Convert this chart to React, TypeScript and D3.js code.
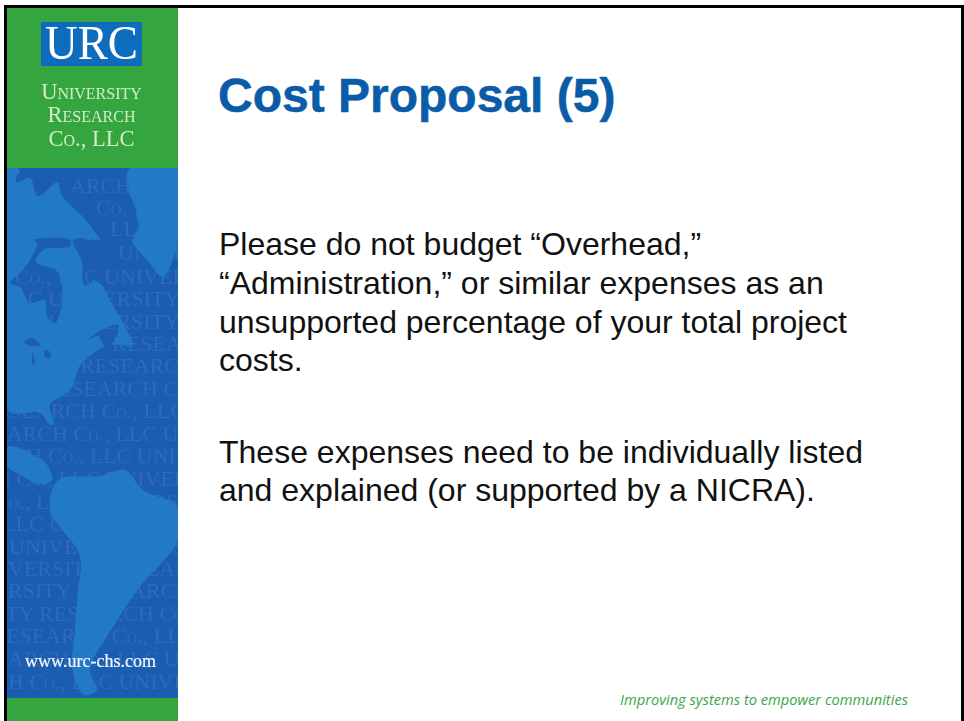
import React from "react";
import * as d3 from "d3";

type Pt = [number, number];

// Slide copy
const titleText = "Cost Proposal (5)";
const bodyLines = [
  { text: "Please do not budget “Overhead,”", y: 255 },
  { text: "“Administration,” or similar expenses as an", y: 294 },
  { text: "unsupported percentage of your total project", y: 332.5 },
  { text: "costs.", y: 371 },
  { text: "These expenses need to be individually listed", y: 463 },
  { text: "and explained (or supported by a NICRA).", y: 501 },
];
const footerText = "Improving systems to empower communities";
const orgLines = [
  { text: "University", y: 99 },
  { text: "Research", y: 122 },
  { text: "Co., LLC", y: 146 },
];

// Watermark rows in the side panel
const watermarkRows: { y: number; text: string; x: number }[] = [
  { y: 193, text: "ARCH C", x: 70 },
  { y: 215, text: "Co.", x: 96 },
  { y: 236, text: "LLC", x: 110 },
  { y: 260, text: "UNIVERSITY", x: 118 },
  { y: 284, text: "Co., LLC UNIVERSITY", x: 15 },
  { y: 306, text: "LLC UNIVERSITY RESEARCH", x: 1 },
  { y: 329, text: "UNIVERSITY RESEARCH", x: 48 },
  { y: 351, text: "RESEARCH Co.", x: 112 },
  { y: 373, text: "RESEARCH Co., LLC", x: 80 },
  { y: 396, text: "RESEARCH Co., LLC", x: 43 },
  { y: 418, text: "RESEARCH Co., LLC UNIVERSITY", x: -19 },
  { y: 441, text: "RESEARCH Co., LLC UNIVERSITY", x: -47 },
  { y: 463, text: "RCH Co., LLC UNIVERSITY", x: -3 },
  { y: 486, text: "H Co., LLC UNIVERSITY", x: -5 },
  { y: 509, text: "Co., LLC UNIVERSITY", x: -6 },
  { y: 531, text: "LLC UNIVERSITY", x: 2 },
  { y: 554, text: "UNIVERSITY RESEARCH", x: 9 },
  { y: 576, text: "VERSITY RESEARCH Co.", x: 8 },
  { y: 598, text: "RSITY RESEARCH Co.", x: 8 },
  { y: 621, text: "TY RESEARCH Co., LLC", x: 5 },
  { y: 643, text: "ESEARCH Co., LLC UNIV", x: 6 },
  { y: 666, text: "ARCH Co., LLC UNIVERSITY", x: 8 },
  { y: 689, text: "H Co., LLC UNIVERSITY", x: 8 },
];

// Map outlines in the side panel
const northAmerica: Pt[] = [
  [7, 168], [20, 170], [16, 182], [30, 178], [38, 196], [58, 182], [62, 196], [84, 218], [100, 240],
  [90, 240], [88, 258], [87, 276], [101, 284], [110, 300], [130, 336], [133, 345], [110, 345], [82, 363],
  [70, 390], [50, 405], [54, 424], [50, 425], [40, 413], [7, 410],
];
const arcticLand: Pt[] = [
  [130, 168], [178, 168], [178, 240], [172, 262], [163, 277], [147, 260], [132, 240], [139, 225], [128, 205],
];
const southAmerica: Pt[] = [
  [58, 480], [50, 510], [80, 556], [78, 590], [74, 640], [72, 667], [84, 695], [97, 690], [90, 670], [113, 627],
  [140, 587], [178, 540], [178, 507], [143, 490], [125, 470], [100, 476],
];
const centralAmerica: Pt[] = [
  [7, 447], [25, 450], [45, 462], [52, 480], [40, 484], [20, 475], [7, 466],
];
const hudsonBay: Pt[] = [
  [10, 283], [20, 273], [30, 260], [37, 243], [34, 240], [70, 240], [70, 246], [43, 250], [36, 262], [58, 272],
  [62, 303], [55, 323], [47, 317], [45, 300], [30, 303], [20, 287],
];
const baffinPatch: Pt[] = [
  [66, 170], [122, 170], [130, 195], [136, 210], [132, 240], [104, 240], [85, 218], [70, 195], [60, 190],
];
const smallPatches: Pt[][] = [
  [[20, 172], [40, 172], [38, 190], [30, 178], [16, 182]],
  [[73, 240], [88, 240], [92, 252], [92, 282], [84, 285], [82, 262]],
  [[88, 340], [105, 328], [118, 325], [116, 338], [106, 348], [98, 336]],
  [[24, 342], [32, 338], [40, 345], [30, 346]],
  [[32, 352], [35, 362], [33, 365]],
  [[44, 350], [50, 352], [50, 358], [46, 358]],
  [[31, 440], [55, 432], [70, 447], [50, 450]],
  [[30, 452], [70, 440], [80, 446], [68, 456], [40, 458]],
];

const toPath = d3.line<Pt>().curve(d3.curveCatmullRomClosed.alpha(0.5));

const SANS = "'Liberation Sans', Arial, sans-serif";
const SERIF = "'Liberation Serif', 'Times New Roman', serif";

export default function App() {
  return (
    <svg width={964} height={721} style={{ position: "absolute", left: 0, top: 0, background: "#fff" }}>
      <defs>
        <filter id="soft" x="-5%" y="-5%" width="110%" height="110%"><feGaussianBlur stdDeviation="0.6" /></filter>
        <filter id="soft2" x="-5%" y="-5%" width="110%" height="110%"><feGaussianBlur stdDeviation="0.35" /></filter>
        <clipPath id="panel"><rect x={7} y={168} width={171} height={530} /></clipPath>
        <mask id="water" maskUnits="userSpaceOnUse" x={0} y={160} width={190} height={545}>
          <rect x={0} y={160} width={190} height={545} fill="#fff" />
          {[hudsonBay, baffinPatch, ...smallPatches].map((p, i) => (
            <path key={i} d={toPath(p) ?? ""} fill="#000" />
          ))}
        </mask>
      </defs>

      {/* page border */}
      <rect x={4} y={5} width={960} height={3} fill="#000" />
      <rect x={4} y={5} width={3} height={716} fill="#000" />
      <rect x={961} y={5} width={3} height={716} fill="#000" />

      {/* side panel */}
      <rect x={7} y={8} width={171} height={160} fill="#35a63f" />
      <rect x={7} y={698} width={171} height={23} fill="#35a63f" />
      <rect x={7} y={168} width={171} height={530} fill="#1b5db0" />

      <g clipPath="url(#panel)">
        <g filter="url(#soft2)">
          {watermarkRows.map((r) => (
            <text key={r.y} x={r.x} y={r.y} fontFamily={SERIF} fontSize={22} fill="#3a75c0" fillOpacity={0.6}
              style={{ fontVariant: "small-caps" }} xmlSpace="preserve">{r.text}</text>
          ))}
        </g>
        <g filter="url(#soft)" mask="url(#water)">
          {[northAmerica, arcticLand, southAmerica, centralAmerica].map((p, i) => (
            <path key={i} d={toPath(p) ?? ""} fill="#2279c6" />
          ))}
        </g>
      </g>

      {/* logo */}
      <rect x={41} y={22} width={101} height={44} fill="#0b6cbc" filter="url(#soft)" />
      <text x={91.5} y={59} textAnchor="middle" fontFamily={SERIF} fontSize={48} fill="#fff" textLength={93} lengthAdjust="spacingAndGlyphs" filter="url(#soft2)">URC</text>
      <g filter="url(#soft2)">
        {orgLines.map((l) => (
          <text key={l.text} x={91.5} y={l.y} textAnchor="middle" fontFamily={SERIF} fontSize={22.5} fill="#d4ecc8"
            style={{ fontVariant: "small-caps" }}>{l.text}</text>
        ))}
      </g>
      <text x={90.5} y={667} textAnchor="middle" fontFamily={SERIF} fontSize={18} fill="#f4f6fa" stroke="#f4f6fa" strokeWidth={0.2} filter="url(#soft2)">www.urc-chs.com</text>

      {/* slide text */}
      <text x={218} y={112} fontFamily={SANS} fontWeight={700} fontSize={48} fill="#0a5ca8" stroke="#0a5ca8" strokeWidth={0.5}>{titleText}</text>
      {bodyLines.map((l) => (
        <text key={l.y} x={219} y={l.y} fontFamily={SANS} fontSize={32} fill="#111">{l.text}</text>
      ))}
      <text x={620} y={705} fontFamily="'Open Sans', 'Noto Sans', sans-serif" fontStyle="italic" fontSize={14} fill="#3aa64a" textLength={288} lengthAdjust="spacingAndGlyphs">{footerText}</text>
    </svg>
  );
}
